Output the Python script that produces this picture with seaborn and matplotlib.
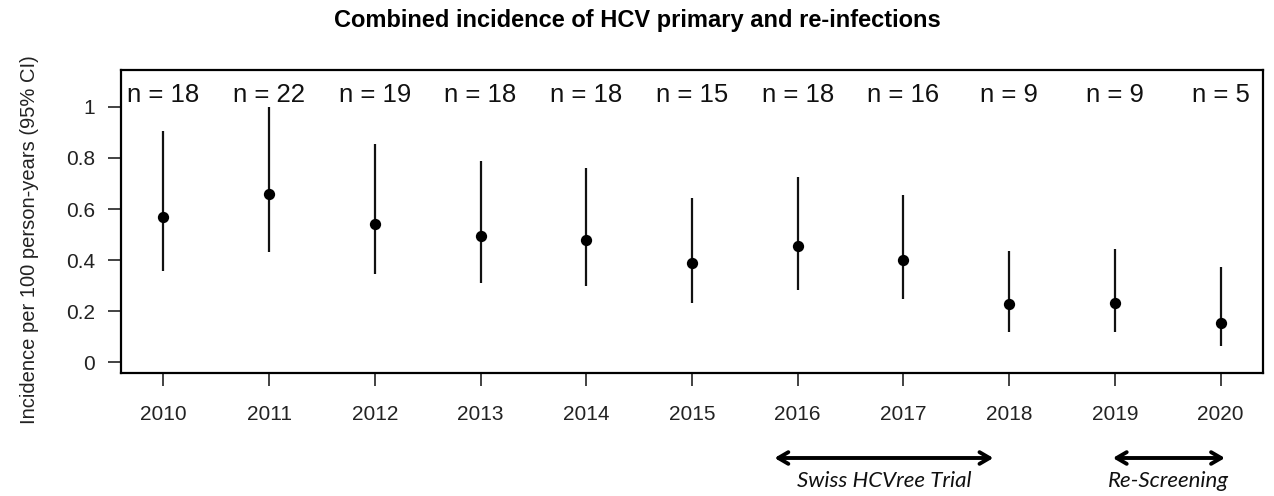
import matplotlib
matplotlib.use("Agg")
import matplotlib.pyplot as plt
import matplotlib.transforms as mtransforms
import seaborn as sns
import pandas as pd

# data
years = [2010, 2011, 2012, 2013, 2014, 2015, 2016, 2017, 2018, 2019, 2020]
incidence = [0.569, 0.658, 0.543, 0.495, 0.479, 0.390, 0.456, 0.401, 0.227, 0.231, 0.155]
ci_low = [0.358, 0.432, 0.345, 0.309, 0.299, 0.231, 0.283, 0.247, 0.116, 0.116, 0.061]
ci_high = [0.906, 1.000, 0.854, 0.789, 0.762, 0.645, 0.726, 0.655, 0.436, 0.445, 0.371]
n_cases = [18, 22, 19, 18, 18, 15, 18, 16, 9, 9, 5]

periods = ["Swiss HCVree Trial", "Re-Screening"]
period_start = [2015.78, 2018.98]
period_end = [2017.85, 2020.04]

df = pd.DataFrame({"year": years, "inc": incidence, "lo": ci_low, "hi": ci_high, "n": n_cases})

sns.set_theme(style="ticks")
plt.rcParams["font.family"] = ["Liberation Sans", "DejaVu Sans"]

fig = plt.figure(figsize=(12.74, 4.96), dpi=100)
ax = fig.add_axes([121 / 1274, 1 - 373 / 496, 1142 / 1274, 303 / 496])

# confidence intervals
ax.vlines(df["year"], df["lo"], df["hi"], color="#111111", lw=1.6, zorder=2)
# point estimates
sns.scatterplot(data=df, x="year", y="inc", color="black", s=66,
                edgecolor="black", linewidth=0, ax=ax, zorder=3)

# n labels above each year
for yr, n in zip(df["year"], df["n"]):
    ax.text(yr, 1.046, f"n = {n}", ha="center", va="center", fontsize=18.5, color="#111111")

ax.set_xlim(2009.6, 2020.4)
ax.set_ylim(-0.043, 1.145)
ax.set_xticks(years)
ax.set_xticklabels([str(y) for y in years])
ax.set_yticks([0, 0.2, 0.4, 0.6, 0.8, 1.0])
ax.set_yticklabels(["0", "0.2", "0.4", "0.6", "0.8", "1"])
ax.tick_params(axis="x", length=9, width=1.2, pad=14, labelsize=15, colors="#222222")
ax.tick_params(axis="y", length=9.5, width=1.2, pad=9, labelsize=15, colors="#222222")
for sp in ax.spines.values():
    sp.set_visible(True)
    sp.set_linewidth(1.6)
    sp.set_color("black")

ax.set_xlabel("")
ax.set_ylabel("Incidence per 100 person-years (95% CI)", fontsize=14.5, color="#222222")
ax.yaxis.label.set_va("center")
ax.yaxis.set_label_coords(-0.0797, 0.44)

fig.suptitle("Combined incidence of HCV primary and re-infections", x=0.5, y=1 - 20 / 496,
             va="center", fontsize=17, fontweight="bold", color="black")

# study period arrows below the axis
blend = mtransforms.blended_transform_factory(ax.transData, fig.transFigure)
for label, x0, x1 in zip(periods, period_start, period_end):
    ax.annotate("", xy=(x1, 1 - 458 / 496), xytext=(x0, 1 - 458 / 496),
                xycoords=("data", "figure fraction"), textcoords=("data", "figure fraction"),
                annotation_clip=False,
                arrowprops=dict(arrowstyle="<->,head_length=0.6,head_width=0.35",
                                lw=2.8, color="black", shrinkA=0, shrinkB=0))
    ax.text((x0 + x1) / 2, 1 - 481 / 496, label, transform=blend,
            ha="center", va="center", fontsize=16, style="italic",
            family=["Lato", "DejaVu Sans"], color="#111111")

fig.savefig("out.png", dpi=100)
